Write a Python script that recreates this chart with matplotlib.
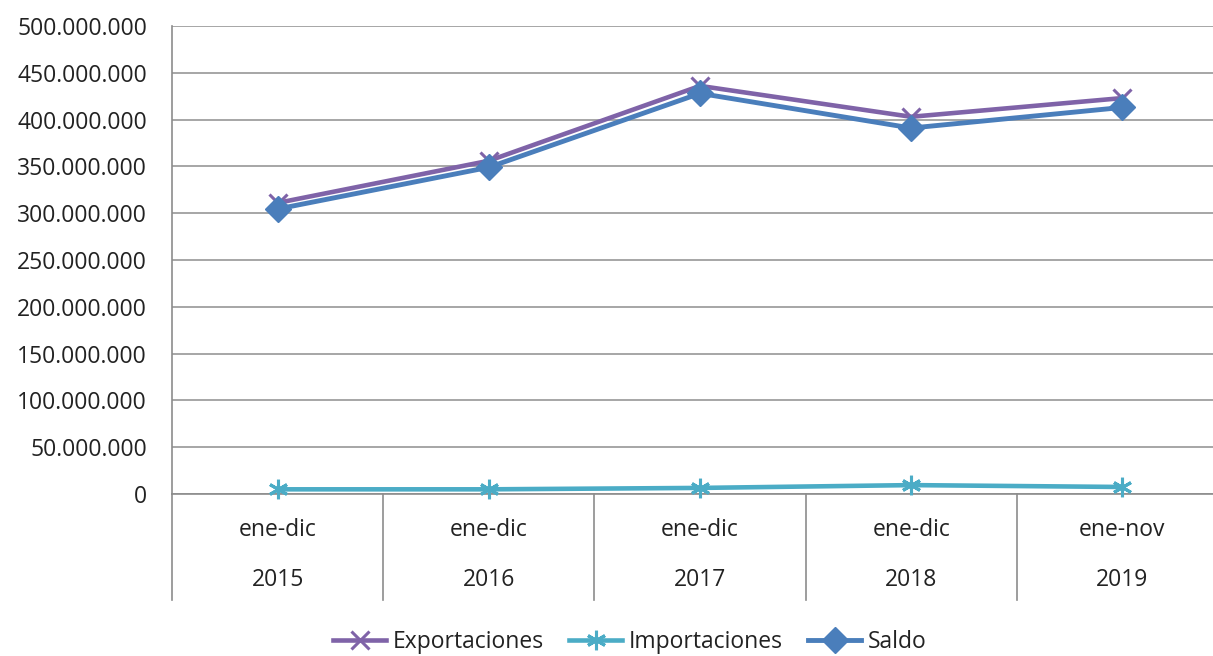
import matplotlib
matplotlib.use("Agg")
import matplotlib.pyplot as plt
from matplotlib.ticker import FuncFormatter
from matplotlib.lines import Line2D

periods = ["ene-dic", "ene-dic", "ene-dic", "ene-dic", "ene-nov"]
years = ["2015", "2016", "2017", "2018", "2019"]
exportaciones = [311e6, 356e6, 436e6, 403e6, 423e6]
importaciones = [5.0e6, 5.0e6, 6.5e6, 9.5e6, 7.5e6]
saldo = [304.5e6, 349e6, 428e6, 391e6, 413e6]

plt.rcParams['font.family'] = ['Open Sans', 'DejaVu Sans']

W, H = 1213, 656
fig = plt.figure(figsize=(W / 100, H / 100), dpi=100)
left, right, bottom, top = 172, 1228, 494, 26
ax = fig.add_axes([left / W, 1 - bottom / H, (right - left) / W, (bottom - top) / H])

x = list(range(len(years)))
c_exp = "#7f63a8"
c_imp = "#4bacc6"
c_sal = "#4a7ebb"
FS = 16.5

ax.plot(x, exportaciones, color=c_exp, lw=3.3, marker="x", ms=13, mew=2.2, zorder=3, clip_on=False)
ax.plot(x, importaciones, color=c_imp, lw=3.3, marker=(6, 2, 0), ms=14, mew=2.2, zorder=3, clip_on=False)
ax.plot(x, saldo, color=c_sal, lw=3.5, marker="D", ms=13, zorder=4, clip_on=False)

ax.set_xlim(-0.5, len(years) - 0.5)
ax.set_ylim(0, 500e6)
ax.set_yticks([i * 50e6 for i in range(11)])
ax.yaxis.set_major_formatter(FuncFormatter(lambda v, p: f"{int(v):,}".replace(",", ".")))
ax.tick_params(axis="y", length=0, labelsize=FS, pad=18, colors="#222222")
ax.set_xticks([])
ax.grid(axis="y", color="#a6a6a6", lw=1.4)
ax.set_axisbelow(True)
for s in ["top", "right"]:
    ax.spines[s].set_visible(False)
ax.spines["left"].set_color("#8c8c8c")
ax.spines["bottom"].set_color("#8c8c8c")
ax.spines["left"].set_linewidth(1.2)
ax.spines["bottom"].set_linewidth(1.2)

trans = ax.get_xaxis_transform()
ext = -(600 - 494) / (494 - 26)
for b in [-0.5, 0.5, 1.5, 2.5, 3.5]:
    ax.plot([b, b], [0, ext], transform=trans, color="#8c8c8c", lw=1.2, clip_on=False)
for i in x:
    ax.text(i, -(530 - 494) / 468, periods[i], transform=trans, ha="center", va="center",
            fontsize=FS, color="#222222")
    ax.text(i, -(580 - 494) / 468, years[i], transform=trans, ha="center", va="center",
            fontsize=FS, color="#222222")

handles = [
    Line2D([], [], color=c_exp, lw=3.3, marker="x", ms=13, mew=2.2),
    Line2D([], [], color=c_imp, lw=3.3, marker=(6, 2, 0), ms=14, mew=2.2),
    Line2D([], [], color=c_sal, lw=3.5, marker="D", ms=13),
]
fig.legend(handles, ["Exportaciones", "Importaciones", "Saldo"], loc="center",
           bbox_to_anchor=(630 / W, 1 - 642 / H), ncol=3, frameon=False, fontsize=FS,
           handlelength=2.3, handletextpad=0.3, columnspacing=1.1, labelcolor="#222222")

fig.savefig("out.png", dpi=100, facecolor="white")
